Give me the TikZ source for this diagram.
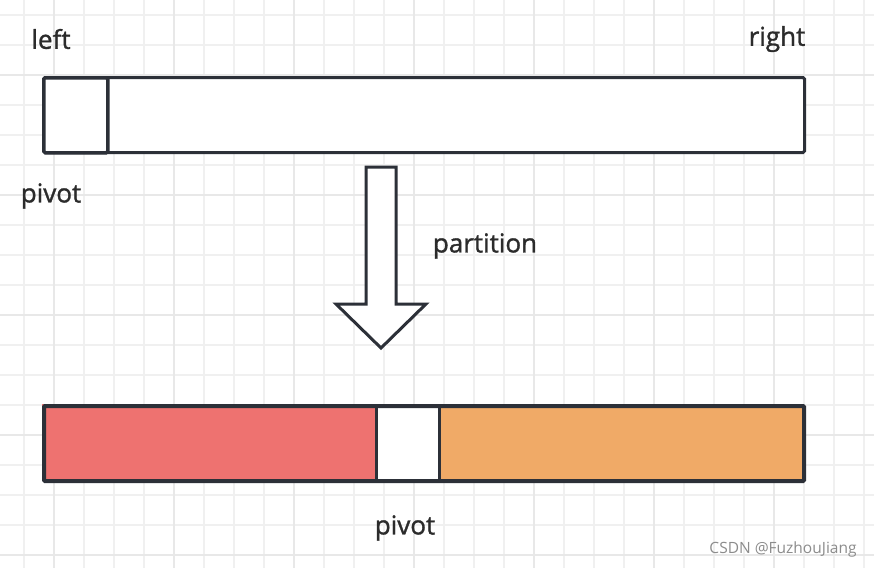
\documentclass[tikz,border=0pt]{standalone}
\usepackage{fontspec}
\setmainfont{Open Sans}
\newfontfamily\lblfont[FakeBold=1.2]{Open Sans}
\begin{document}
\begin{tikzpicture}[x=1pt,y=-1pt,
  gridminor/.style={draw=black!6,line width=1.2pt},
  gridmajor/.style={draw=black!9,line width=1.6pt},
  bar/.style={draw=ink,line width=3pt,rounded corners=1.5pt},
  lbl/.style={text=textc,font=\lblfont\fontsize{26}{30}\selectfont,inner sep=0pt},
  wm/.style={text=black!45,font=\fontsize{15.5}{18}\selectfont,inner sep=0pt}]
\definecolor{ink}{HTML}{2C3038}
\definecolor{textc}{HTML}{2B2B2B}
\definecolor{redf}{HTML}{EE7270}
\definecolor{orangef}{HTML}{F0AA67}
\useasboundingbox (0,0) rectangle (874,568);
\fill[white] (0,0) rectangle (874,568);
% grid
\foreach \x in {24,54,...,864} {\draw[gridminor] (\x,0) -- (\x,568);}
\foreach \y in {15,45,...,565} {\draw[gridminor] (0,\y) -- (874,\y);}
\foreach \x in {54,174,...,864} {\draw[gridmajor] (\x,0) -- (\x,568);}
\foreach \y in {75,195,...,565} {\draw[gridmajor] (0,\y) -- (874,\y);}
% top bar
\node[bar,fill=white,minimum width=761pt,minimum height=75pt,anchor=north west,inner sep=0pt] (top) at (42,76) {};
\node[bar,fill=white,minimum width=64pt,minimum height=75pt,anchor=north west,inner sep=0pt,line width=3.5pt] (tpivot) at (42,76) {};
% labels
\node[lbl] (left) at (51,39) {left};
\node[lbl] (right) at (777,39) {right};
\node[lbl] (pivot1) at (51,196) {pivot};
\node[lbl] (part) at (485,246) {partition};
% arrow
\draw[draw=ink,line width=3pt,fill=white,line join=miter]
  (366,167) -- (396,167) -- (396,304) -- (426,304) -- (381,348) -- (336,304) -- (366,304) -- cycle;
% bottom bar
\fill[redf] (42,404) rectangle (376,479);
\fill[white] (376,404) rectangle (439,479);
\fill[orangef] (439,404) rectangle (802,479);
\node[draw=ink,line width=4pt,minimum width=760pt,minimum height=75pt,anchor=north west,inner sep=0pt,rounded corners=1pt] (bot) at (42,404) {};
\draw[draw=ink,line width=3pt] (376,404) -- (376,479);
\draw[draw=ink,line width=3pt] (439,404) -- (439,479);
\node[lbl] (pivot2) at (405,528) {pivot};
\node[wm] (mark) at (783,549) {CSDN @FuzhouJiang};
\end{tikzpicture}
\end{document}
